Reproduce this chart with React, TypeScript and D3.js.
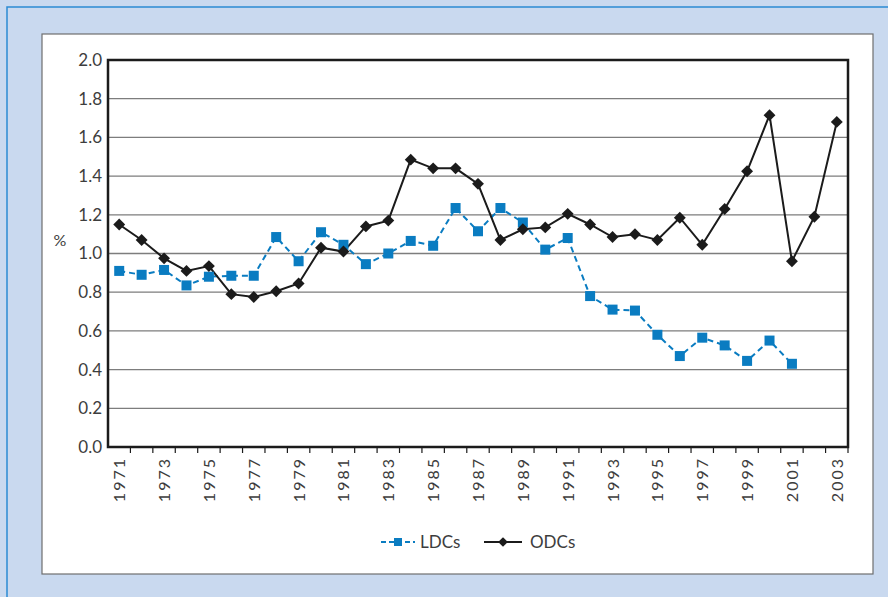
import React, { useRef, useEffect } from 'react'
import * as d3 from 'd3'

const years = d3.range(1971, 2004).map(String)
const yearLabels = years.filter((_, i) => i % 2 === 0)

const ldcs = [0.91, 0.89, 0.915, 0.835, 0.88, 0.885, 0.885, 1.085, 0.96, 1.11, 1.045,
  0.945, 1.0, 1.065, 1.04, 1.235, 1.115, 1.235, 1.16, 1.02, 1.08,
  0.78, 0.71, 0.705, 0.58, 0.47, 0.565, 0.525, 0.445, 0.55, 0.43]

const odcs = [1.15, 1.07, 0.975, 0.91, 0.935, 0.79, 0.775, 0.805, 0.845, 1.03, 1.01,
  1.14, 1.17, 1.485, 1.44, 1.44, 1.36, 1.07, 1.125, 1.135, 1.205,
  1.15, 1.085, 1.10, 1.07, 1.185, 1.045, 1.23, 1.425, 1.715, 0.96, 1.19, 1.68]

const yTicks = [0, 0.2, 0.4, 0.6, 0.8, 1.0, 1.2, 1.4, 1.6, 1.8, 2.0]

const App = () => {
  const ref = useRef<SVGSVGElement>(null)

  useEffect(() => {
    const width = 888
    const height = 597
    const margin = { top: 60, right: 40, bottom: 150, left: 108 }
    const boundedWidth = width - margin.left - margin.right
    const boundedHeight = 447 - margin.top

    const svg = d3.select(ref.current)
    svg.selectAll('*').remove()

    const font = 'Lato, "Open Sans", sans-serif'
    const textColor = '#3d3d3d'
    const blue = '#0a7cc1'
    const black = '#1b1b1b'

    // page background + panel
    svg.append('rect').attr('width', width).attr('height', height).attr('fill', '#c9d9ef')
    svg.append('rect')
      .attr('x', 7).attr('y', 7).attr('width', width + 20).attr('height', height + 20)
      .attr('fill', 'none').attr('stroke', '#2b8bd3').attr('stroke-width', 1.5)
    svg.append('rect')
      .attr('x', 42).attr('y', 34).attr('width', 831).attr('height', 540)
      .attr('fill', 'white').attr('stroke', '#6e6e6e').attr('stroke-width', 1.2)

    const bounds = svg.append('g')
      .attr('transform', `translate(${margin.left}, ${margin.top})`)

    const xScale = d3.scaleBand()
      .domain(years)
      .range([0, boundedWidth])

    const yScale = d3.scaleLinear()
      .domain([0, 2])
      .range([boundedHeight, 0])

    const cx = (i: number) => (xScale(years[i]) as number) + xScale.bandwidth() / 2

    // grid
    bounds.selectAll('.grid')
      .data(yTicks.slice(1, -1))
      .join('line')
      .attr('x1', 0).attr('x2', boundedWidth)
      .attr('y1', d => yScale(d)).attr('y2', d => yScale(d))
      .attr('stroke', '#7d7d7d').attr('stroke-width', 1.3)

    // y labels
    bounds.selectAll('.ylab')
      .data(yTicks)
      .join('text')
      .attr('x', -6)
      .attr('y', d => yScale(d))
      .attr('dy', '0.35em')
      .attr('text-anchor', 'end')
      .attr('fill', textColor)
      .style('font-family', font)
      .style('font-size', '17px')
      .text(d => d.toFixed(1))

    svg.append('text')
      .attr('x', 60).attr('y', 246)
      .attr('text-anchor', 'middle')
      .attr('fill', textColor)
      .style('font-family', font)
      .style('font-size', '16px')
      .text('%')

    // x ticks between categories
    bounds.selectAll('.xtick')
      .data(d3.range(1, years.length + 1))
      .join('line')
      .attr('x1', d => d * xScale.step()).attr('x2', d => d * xScale.step())
      .attr('y1', boundedHeight).attr('y2', boundedHeight + 6)
      .attr('stroke', black).attr('stroke-width', 1.2)

    bounds.selectAll('.xlab')
      .data(yearLabels)
      .join('text')
      .attr('transform', d => `translate(${(xScale(d) as number) + xScale.bandwidth() / 2 + 6}, ${boundedHeight + 10}) rotate(-90)`)
      .attr('text-anchor', 'end')
      .attr('fill', textColor)
      .style('font-family', font)
      .style('font-size', '16px')
      .style('letter-spacing', '2px')
      .text(d => d)

    // frame
    bounds.append('rect')
      .attr('width', boundedWidth).attr('height', boundedHeight)
      .attr('fill', 'none').attr('stroke', black).attr('stroke-width', 2.5)

    const line = d3.line<number>()
      .x((_, i) => cx(i))
      .y(d => yScale(d))

    bounds.append('path')
      .attr('d', line(ldcs))
      .attr('fill', 'none')
      .attr('stroke', blue)
      .attr('stroke-width', 2)
      .attr('stroke-dasharray', '6, 4')

    bounds.append('path')
      .attr('d', line(odcs))
      .attr('fill', 'none')
      .attr('stroke', black)
      .attr('stroke-width', 2)

    const diamond = d3.symbol().type(d3.symbolDiamond2).size(90)

    bounds.selectAll('.ldc')
      .data(ldcs)
      .join('rect')
      .attr('x', (_, i) => cx(i) - 5).attr('y', d => yScale(d) - 5)
      .attr('width', 10).attr('height', 10)
      .attr('fill', blue)

    bounds.selectAll('.odc')
      .data(odcs)
      .join('path')
      .attr('d', diamond())
      .attr('transform', (d, i) => `translate(${cx(i)}, ${yScale(d)})`)
      .attr('fill', black)

    // legend
    const legend = svg.append('g').attr('transform', 'translate(0, 542)')
    legend.append('line')
      .attr('x1', 381).attr('x2', 415).attr('y1', 0).attr('y2', 0)
      .attr('stroke', blue).attr('stroke-width', 2).attr('stroke-dasharray', '5, 3')
    legend.append('rect')
      .attr('x', 394).attr('y', -4).attr('width', 8).attr('height', 8).attr('fill', blue)
    legend.append('text')
      .attr('x', 420).attr('y', 0).attr('dy', '0.35em')
      .attr('fill', textColor)
      .style('font-family', font).style('font-size', '17px')
      .text('LDCs')
    legend.append('line')
      .attr('x1', 484).attr('x2', 522).attr('y1', 0).attr('y2', 0)
      .attr('stroke', black).attr('stroke-width', 2)
    legend.append('path')
      .attr('d', d3.symbol().type(d3.symbolDiamond2).size(60)())
      .attr('transform', 'translate(503, 0)')
      .attr('fill', black)
    legend.append('text')
      .attr('x', 530).attr('y', 0).attr('dy', '0.35em')
      .attr('fill', textColor)
      .style('font-family', font).style('font-size', '17px')
      .text('ODCs')
  }, [])

  return (
    <svg ref={ref} width={888} height={597}
      style={{ position: 'absolute', left: 0, top: 0, display: 'block' }} />
  )
}

export default App
